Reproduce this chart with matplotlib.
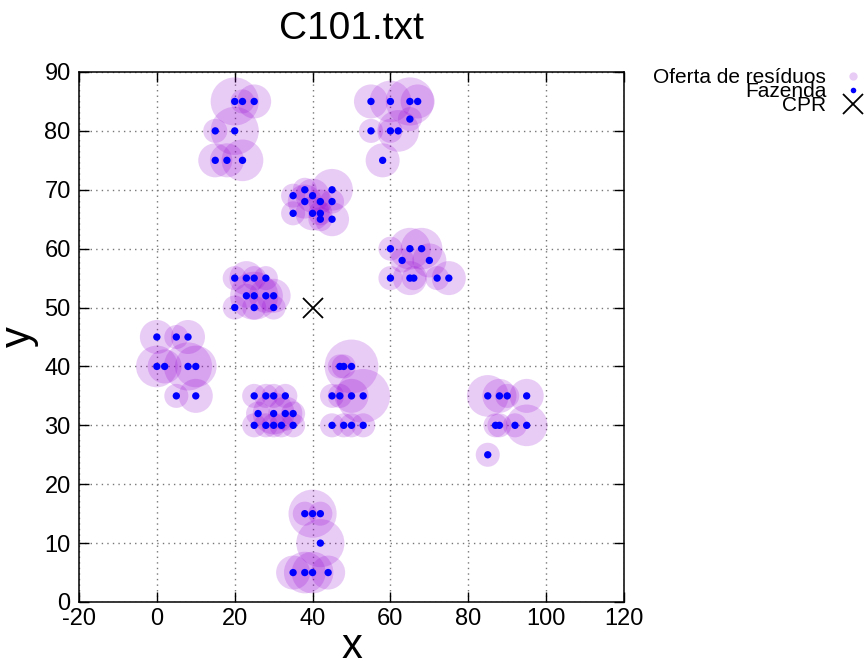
import matplotlib
matplotlib.use("Agg")
import matplotlib.pyplot as plt
from matplotlib.lines import Line2D

plt.rcParams['font.family'] = ['Liberation Sans', 'DejaVu Sans']
plt.rcParams['axes.unicode_minus'] = False

title = "C101.txt"
depot_x = [40]
depot_y = [50]

cust_x = [45, 45, 42, 42, 42, 40, 40, 38, 38, 35, 35, 25, 22, 22, 20, 20, 18, 15, 15, 30,
          30, 28, 28, 25, 25, 25, 23, 23, 20, 20, 10, 10, 8, 8, 5, 5, 2, 0, 0, 35,
          35, 33, 33, 32, 30, 30, 30, 28, 28, 26, 25, 25, 44, 42, 42, 40, 40, 38, 38, 35,
          50, 50, 50, 48, 48, 47, 47, 45, 45, 95, 95, 53, 92, 53, 45, 90, 88, 88, 87, 85,
          85, 75, 72, 70, 68, 66, 65, 65, 63, 60, 60, 67, 65, 65, 62, 60, 60, 58, 55, 55]
cust_y = [68, 70, 66, 68, 65, 69, 66, 68, 70, 66, 69, 85, 75, 85, 80, 85, 75, 75, 80, 50,
          52, 52, 55, 50, 52, 55, 52, 55, 50, 55, 35, 40, 40, 45, 35, 45, 40, 40, 45, 30,
          32, 32, 35, 30, 30, 32, 35, 30, 35, 32, 30, 35, 5, 10, 15, 5, 15, 5, 15, 5,
          30, 35, 40, 30, 40, 35, 40, 30, 35, 30, 35, 30, 30, 35, 65, 35, 30, 35, 30, 25,
          35, 55, 55, 58, 60, 55, 55, 60, 58, 55, 60, 85, 85, 82, 80, 80, 85, 75, 80, 85]
demand = [10, 30, 10, 10, 10, 20, 20, 20, 10, 10, 10, 20, 30, 10, 40, 40, 20, 20, 10, 10,
          20, 20, 10, 10, 40, 10, 10, 20, 10, 10, 20, 30, 40, 20, 10, 10, 20, 30, 20, 10,
          10, 20, 10, 10, 10, 30, 10, 10, 10, 10, 10, 10, 20, 40, 10, 30, 40, 30, 10, 20,
          10, 20, 50, 10, 10, 10, 10, 10, 10, 30, 20, 10, 10, 50, 20, 10, 10, 20, 10, 10,
          30, 20, 10, 20, 30, 10, 20, 30, 10, 10, 10, 20, 40, 10, 30, 10, 30, 20, 10, 20]

x_ticks = [-20, 0, 20, 40, 60, 80, 100, 120]
y_ticks = [0, 10, 20, 30, 40, 50, 60, 70, 80, 90]
legend_labels = ["Oferta de resíduos", "Fazenda", "CPR"]

circle_color = '#9400d3'
farm_color = '#0000ff'

fig = plt.figure(figsize=(8.68, 6.64), dpi=100)
ax = fig.add_axes([79/868, 1 - 602/664, (624-79)/868, (602-72)/664])

ax.scatter(cust_x, cust_y, s=[30 * d for d in demand], color=circle_color,
           alpha=0.2, edgecolors='none', zorder=2)
ax.scatter(cust_x, cust_y, s=28, color=farm_color, edgecolors='none', zorder=3)
ax.plot(depot_x, depot_y, marker='x', linestyle='none', color='black',
        markersize=14.5, markeredgewidth=1.3, zorder=4)

ax.set_xlim(x_ticks[0], x_ticks[-1])
ax.set_ylim(y_ticks[0], y_ticks[-1])
ax.set_xticks(x_ticks)
ax.set_yticks(y_ticks)
ax.tick_params(direction='in', length=7, width=1, top=True, right=True,
               labelsize=17)
ax.tick_params(axis='x', pad=4)
ax.tick_params(axis='y', pad=6)
ax.grid(True, linestyle=(0, (1, 3)), color='#777777', linewidth=1)
ax.set_axisbelow(True)
for sp in ax.spines.values():
    sp.set_linewidth(1.1)

ax.set_xlabel("x", fontsize=30, labelpad=-2)
ax.set_ylabel("y", fontsize=30, labelpad=4)
ax.set_title(title, fontsize=28, pad=24)

handles = [
    Line2D([], [], marker='o', linestyle='none', color=circle_color, alpha=0.2,
           markeredgewidth=0, markersize=6),
    Line2D([], [], marker='o', linestyle='none', color=farm_color,
           markeredgewidth=0, markersize=4),
    Line2D([], [], marker='x', linestyle='none', color='black',
           markersize=14, markeredgewidth=1.3),
]
leg = ax.legend(handles, legend_labels, loc='upper right',
                bbox_to_anchor=(870/868, 1 - 62/664), bbox_transform=fig.transFigure,
                frameon=False, markerfirst=False, fontsize=15,
                labelspacing=-0.25, handlelength=1.0, handletextpad=0.8,
                borderaxespad=0, borderpad=0.3)

fig.savefig("out.png", dpi=100)
